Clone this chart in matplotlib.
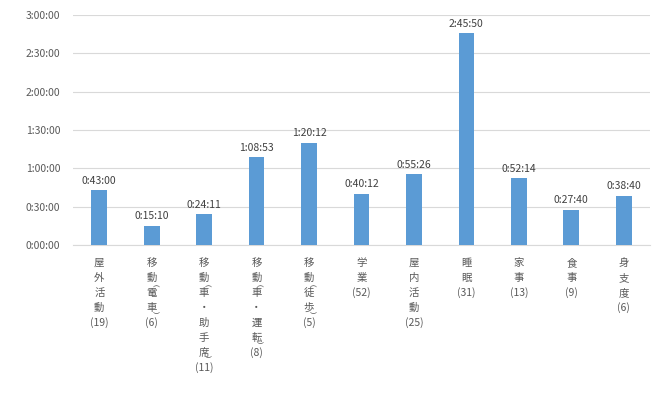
import matplotlib
matplotlib.use("Agg")
import matplotlib.pyplot as plt
from matplotlib.ticker import FuncFormatter, MultipleLocator

plt.rcParams["font.family"] = ["Noto Sans CJK JP", "DejaVu Sans"]

# Data (durations in seconds)
categories = ["屋外活動", "移動(電車)", "移動(車・助手席)", "移動(車・運転)", "移動(徒歩)",
              "学業", "屋内活動", "睡眠", "家事", "食事", "身支度"]
counts = [19, 6, 11, 8, 5, 52, 25, 31, 13, 9, 6]
value_labels = ["0:43:00", "0:15:10", "0:24:11", "1:08:53", "1:20:12", "0:40:12",
                "0:55:26", "2:45:50", "0:52:14", "0:27:40", "0:38:40"]


def to_sec(s):
    h, m, sec = (int(p) for p in s.split(":"))
    return h * 3600 + m * 60 + sec


values = [to_sec(v) for v in value_labels]

bar_color = "#5B9BD5"
text_color = "#595959"
grid_color = "#D9D9D9"

fig = plt.figure(figsize=(6.61, 4.08), dpi=100)
ax = fig.add_axes([73 / 661, 1 - 245 / 408, 577 / 661, 230 / 408])

x = list(range(len(categories)))
ax.bar(x, values, width=0.3, color=bar_color, zorder=3)
ax.set_xlim(-0.5, len(categories) - 0.5)
ax.set_ylim(0, 3 * 3600)

ax.yaxis.set_major_locator(MultipleLocator(1800))
ax.yaxis.set_major_formatter(FuncFormatter(
    lambda v, pos: f"{int(v) // 3600}:{int(v) % 3600 // 60:02d}:{int(v) % 60:02d}"))
ax.tick_params(axis="y", length=0, pad=9, labelsize=7.5, labelcolor=text_color)
ax.tick_params(axis="x", length=0, labelbottom=False)
ax.grid(axis="y", color=grid_color, linewidth=0.8, zorder=0)
for side in ["top", "right", "left"]:
    ax.spines[side].set_visible(False)
ax.spines["bottom"].set_color(grid_color)

# value labels on top of bars
for xi, v, lab in zip(x, values, value_labels):
    ax.annotate(lab, xy=(xi, v), xytext=(0, 3), textcoords="offset points",
                ha="center", va="bottom", fontsize=7.5, color="#404040")

# vertical category labels, one character per line
px = 72 / 100  # pixels -> points
pitch = 15
first = 18
for xi, name, n in zip(x, categories, counts):
    lines = []
    parens = []
    for ch in name:
        if ch == "(":
            parens.append(("︵", len(lines) - 0.5))
        elif ch == ")":
            parens.append(("︶", len(lines) - 0.5))
        else:
            lines.append(ch)
    lines.append(f"({n})")
    for k, ch in enumerate(lines):
        ax.annotate(ch, xy=(xi, 0), xycoords=("data", "axes fraction"),
                    xytext=(0, -(first + pitch * k) * px), textcoords="offset points",
                    ha="center", va="center", fontsize=7.5, color=text_color)
    # vertical-form parentheses sit between the characters
    for ch, pos in parens:
        ax.annotate(ch, xy=(xi, 0), xycoords=("data", "axes fraction"),
                    xytext=(3, -(first + pitch * pos) * px), textcoords="offset points",
                    ha="center", va="center", fontsize=5, color=text_color)

fig.savefig("out.png", dpi=100)
